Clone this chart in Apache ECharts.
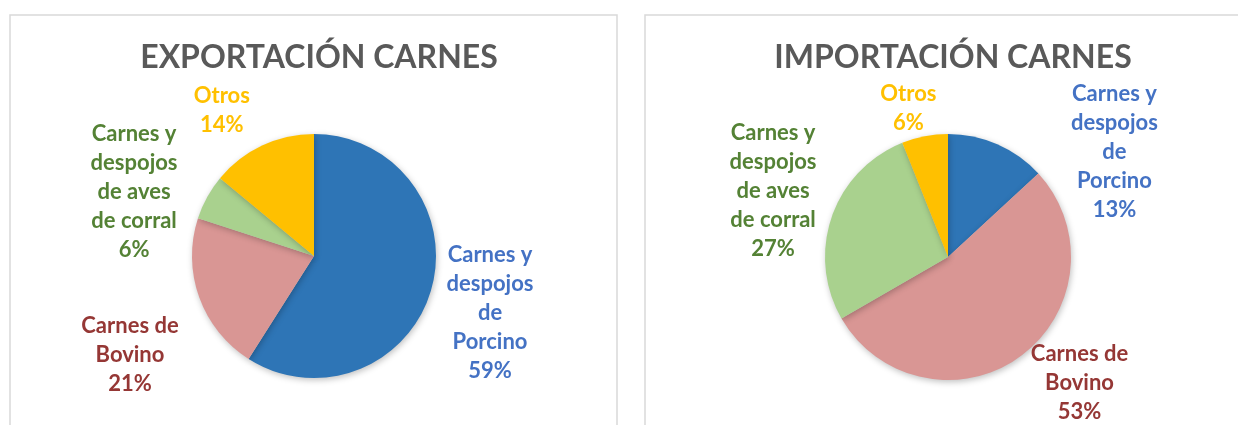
<!DOCTYPE html>
<html>
<head>
<meta charset="utf-8">
<script src="https://cdn.jsdelivr.net/npm/echarts@6/dist/echarts.min.js"></script>
<style>
  html, body { margin: 0; padding: 0; background: #fff; }
  #chart { width: 1238px; height: 425px; }
</style>
</head>
<body>
<div id="chart"></div>
<script>
// categorias (mismo orden en ambos graficos, sentido horario desde las 12)
const categories = ['Carnes y\ndespojos\nde\nPorcino', 'Carnes de\nBovino', 'Carnes y\ndespojos\nde aves\nde corral', 'Otros']
const exportValues = [59, 21, 6, 14]
const importValues = [13, 53, 27, 6]
const titles = ['EXPORTACIÓN CARNES', 'IMPORTACIÓN CARNES']

const sliceColors = ['#2E75B6', '#D99694', '#A9D18E', '#FFC000']
const labelColors = ['#4472C4', '#953735', '#548235', '#FFC000']

// donde van las etiquetas: distancia al centro y giro respecto al angulo medio
const centers = [[314, 256], [948, 257]]
const radius = [122, 123]
const labelDist = [[185, 209, 191, 172], [197, 182, 187, 154]]
const labelNudge = [[1.7, -8.5, -9.2, -7.2], [34, -9.9, 1.6, -4]]
const allValues = [exportValues, importValues]

function labelPos(s, i) {
  const vals = allValues[s]
  const total = vals.reduce((a, b) => a + b, 0)
  let before = 0
  for (let k = 0; k < i; k++) before += vals[k]
  const mid = (-90 + (before + vals[i] / 2) / total * 360 + labelNudge[s][i]) * Math.PI / 180
  return [centers[s][0] + labelDist[s][i] * Math.cos(mid), centers[s][1] + labelDist[s][i] * Math.sin(mid)]
}

function makeSeries(s) {
  return {
    type: 'pie',
    center: centers[s],
    radius: radius[s],
    startAngle: 90,
    clockwise: true,
    animation: false,
    silent: true,
    itemStyle: {
      borderWidth: 0,
      shadowBlur: 6,
      shadowColor: 'rgba(0,0,0,0.25)',
      shadowOffsetX: 1,
      shadowOffsetY: 2
    },
    label: {
      show: true,
      position: 'outside',
      formatter: '{b}\n{c}%',
      fontFamily: 'Lato',
      fontWeight: 'bold',
      fontSize: 22,
      lineHeight: 29
    },
    labelLine: { show: false },
    labelLayout: function(params) {
      const p = labelPos(s, params.dataIndex)
      return { x: p[0], y: p[1], align: 'center', verticalAlign: 'middle' }
    },
    data: allValues[s].map((v, i) => ({
      name: categories[i],
      value: v,
      itemStyle: { color: sliceColors[i] },
      label: { color: labelColors[i] }
    }))
  }
}

const chart = echarts.init(document.getElementById('chart'))
chart.setOption({
  backgroundColor: '#fff',
  title: titles.map((t, s) => ({
    text: t,
    left: centers[s][0],
    top: 37,
    textAlign: 'center',
    textStyle: {
      fontFamily: 'Lato',
      fontWeight: 'bold',
      fontSize: 32,
      color: '#595959'
    }
  })),
  graphic: [
    { type: 'rect', z: -10, shape: { x: 10, y: 15, width: 607, height: 430 }, style: { fill: 'none', stroke: '#D9D9D9', lineWidth: 1.5 } },
    { type: 'rect', z: -10, shape: { x: 645, y: 15, width: 620, height: 430 }, style: { fill: 'none', stroke: '#D9D9D9', lineWidth: 1.5 } }
  ],
  series: [makeSeries(0), makeSeries(1)]
})
</script>
</body>
</html>
